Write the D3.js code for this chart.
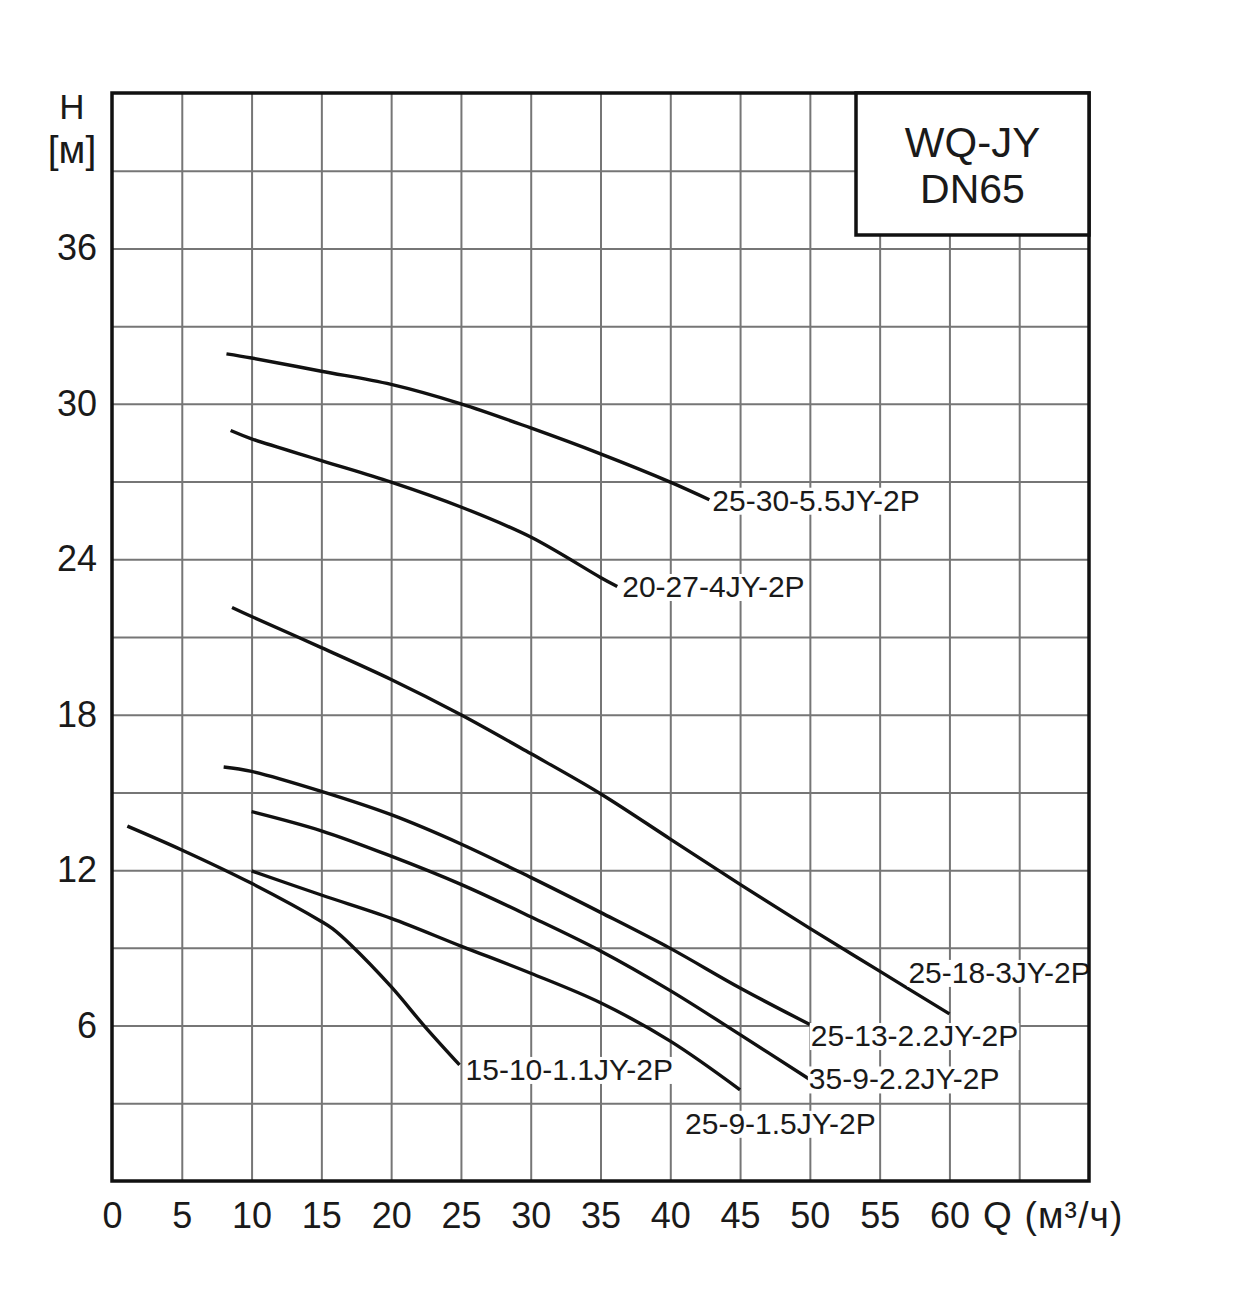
<!DOCTYPE html>
<html>
<head>
<meta charset="utf-8">
<script src="https://cdn.jsdelivr.net/npm/d3@7/dist/d3.min.js"></script>
<style>
  html, body { margin: 0; padding: 0; background: #fff; }
  svg { display: block; font-family: "Liberation Sans", Arial, Helvetica, sans-serif; }
</style>
</head>
<body>
<svg id="chart" width="1240" height="1299"></svg>
<script>
// ---- data ----
const flowTicks = [0, 5, 10, 15, 20, 25, 30, 35, 40, 45, 50, 55, 60];
const headTicks = [6, 12, 18, 24, 30, 36];
const flowGrid = [5, 10, 15, 20, 25, 30, 35, 40, 45, 50, 55, 60, 65];
const headGrid = [3, 6, 9, 12, 15, 18, 21, 24, 27, 30, 33, 36, 39];

const seriesNames = ["25-30-5.5JY-2P", "20-27-4JY-2P", "25-18-3JY-2P", "25-13-2.2JY-2P",
                     "35-9-2.2JY-2P", "25-9-1.5JY-2P", "15-10-1.1JY-2P"];

const q_25_30 = [8.2, 10, 15, 20, 25, 30, 35, 40, 42.8];
const h_25_30 = [31.93, 31.77, 31.26, 30.75, 30.0, 29.07, 28.07, 26.98, 26.3];

const q_20_27 = [8.5, 10, 15, 20, 25, 30, 35, 36.2];
const h_20_27 = [28.97, 28.65, 27.81, 26.98, 26.02, 24.86, 23.3, 22.95];

const q_25_18 = [8.6, 10, 15, 20, 25, 30, 35, 40, 45, 50, 55, 60];
const h_25_18 = [22.14, 21.79, 20.59, 19.36, 18.0, 16.5, 14.95, 13.2, 11.45, 9.75, 8.1, 6.45];

const q_25_13 = [8, 10, 15, 20, 25, 30, 35, 40, 45, 50];
const h_25_13 = [15.98, 15.81, 15.04, 14.14, 13.01, 11.72, 10.37, 8.98, 7.45, 6.04];

const q_35_9 = [10, 15, 20, 25, 30, 35, 40, 45, 50];
const h_35_9 = [14.26, 13.52, 12.54, 11.45, 10.2, 8.88, 7.35, 5.65, 3.92];

const q_25_9 = [10, 15, 20, 25, 30, 35, 40, 45];
const h_25_9 = [11.97, 11.04, 10.14, 9.07, 8.02, 6.88, 5.4, 3.52];

const q_15_10 = [1.1, 5, 10, 15, 15.8, 17.1, 20, 22.4, 24.9];
const h_15_10 = [13.7, 12.78, 11.49, 10.02, 9.74, 9.12, 7.5, 5.97, 4.48];

const titleLines = ["WQ-JY", "DN65"];
const yTitle = ["H", "[м]"];
const xTitle = "Q (м³/ч)";

// ---- layout ----
const seriesQ = [q_25_30, q_20_27, q_25_18, q_25_13, q_35_9, q_25_9, q_15_10];
const seriesH = [h_25_30, h_20_27, h_25_18, h_25_13, h_35_9, h_25_9, h_15_10];
// label offsets (px) from each curve's last point
const labelOffsets = [[3, 11], [5, 10.5], [-41, -31], [1, 21.5], [-1, 10], [-55, 44], [6, 15]];

const pLeft = 112, pRight = 1089, pTop = 93, pBottom = 1181;
const x = d3.scaleLinear().domain([0, 70]).range([pLeft, pRight]);
const y = d3.scaleLinear().domain([0, 42]).range([pBottom, pTop]);

const svg = d3.select("#chart");
svg.append("rect").attr("width", 1240).attr("height", 1299).attr("fill", "#fff");

// grid
const gridColor = "#767676";
svg.append("g")
  .attr("transform", `translate(0,${pBottom})`)
  .call(d3.axisBottom(x).tickValues(flowGrid).tickSize(-(pBottom - pTop)).tickFormat(""))
  .call(g => g.select(".domain").remove())
  .call(g => g.selectAll("line").attr("stroke", gridColor).attr("stroke-width", 2));
svg.append("g")
  .attr("transform", `translate(${pLeft},0)`)
  .call(d3.axisLeft(y).tickValues(headGrid).tickSize(-(pRight - pLeft)).tickFormat(""))
  .call(g => g.select(".domain").remove())
  .call(g => g.selectAll("line").attr("stroke", gridColor).attr("stroke-width", 2));

// tick labels
svg.append("g")
  .attr("transform", `translate(0,${pBottom})`)
  .call(d3.axisBottom(x).tickValues(flowTicks).tickSize(0).tickPadding(21).tickFormat(d3.format("d")))
  .call(g => g.select(".domain").remove())
  .call(g => g.selectAll("text").attr("font-size", 36).attr("fill", "#1a1a1a")
    .attr("font-family", '"Liberation Sans", Arial, sans-serif'));
svg.append("g")
  .attr("transform", `translate(${pLeft},0)`)
  .call(d3.axisLeft(y).tickValues(headTicks).tickSize(0).tickPadding(15).tickFormat(d3.format("d")))
  .call(g => g.select(".domain").remove())
  .call(g => g.selectAll("text").attr("font-size", 36).attr("fill", "#1a1a1a")
    .attr("font-family", '"Liberation Sans", Arial, sans-serif'));

// axis titles
svg.append("text").attr("x", 72).attr("y", 119).attr("text-anchor", "middle")
  .attr("font-size", 35).attr("fill", "#1a1a1a").text(yTitle[0]);
svg.append("text").attr("x", 72).attr("y", 163).attr("text-anchor", "middle")
  .attr("font-size", 39).attr("fill", "#1a1a1a").text(yTitle[1]);
svg.append("text").attr("x", 983).attr("y", 1228).attr("text-anchor", "start")
  .attr("font-size", 37).attr("letter-spacing", 1.2).attr("fill", "#1a1a1a").text(xTitle);

// curves
const line = d3.line().x(d => x(d[0])).y(d => y(d[1])).curve(d3.curveCatmullRom.alpha(0.5));
const labelLayer = [];
seriesNames.forEach((name, i) => {
  const pts = seriesQ[i].map((q, j) => [q, seriesH[i][j]]);
  svg.append("path").datum(pts).attr("d", line)
    .attr("fill", "none").attr("stroke", "#111").attr("stroke-width", 3.4).attr("stroke-linecap", "butt");
  const last = pts[pts.length - 1];
  labelLayer.push({ name, lx: x(last[0]) + labelOffsets[i][0], ly: y(last[1]) + labelOffsets[i][1] });
});

// labels with white background
labelLayer.forEach(d => {
  const g = svg.append("g");
  const r = g.append("rect").attr("fill", "#fff");
  const t = g.append("text").attr("x", d.lx).attr("y", d.ly).attr("font-size", 30)
    .attr("fill", "#1a1a1a").text(d.name);
  const bb = t.node().getBBox();
  r.attr("x", bb.x - 1).attr("y", bb.y + 4).attr("width", bb.width + 2).attr("height", bb.height - 6);
});

// frame
svg.append("rect").attr("x", pLeft).attr("y", pTop).attr("width", pRight - pLeft).attr("height", pBottom - pTop)
  .attr("fill", "none").attr("stroke", "#111").attr("stroke-width", 3.5);

// title box
const bx0 = 856, by1 = 235;
svg.append("rect").attr("x", bx0).attr("y", pTop).attr("width", pRight - bx0).attr("height", by1 - pTop)
  .attr("fill", "#fff").attr("stroke", "#111").attr("stroke-width", 3.5);
const cx = (bx0 + pRight) / 2;
svg.append("text").attr("x", cx).attr("y", 157).attr("text-anchor", "middle")
  .attr("font-size", 42).attr("fill", "#1a1a1a").text(titleLines[0]);
svg.append("text").attr("x", cx).attr("y", 203).attr("text-anchor", "middle")
  .attr("font-size", 41).attr("fill", "#1a1a1a").text(titleLines[1]);
</script>
</body>
</html>
